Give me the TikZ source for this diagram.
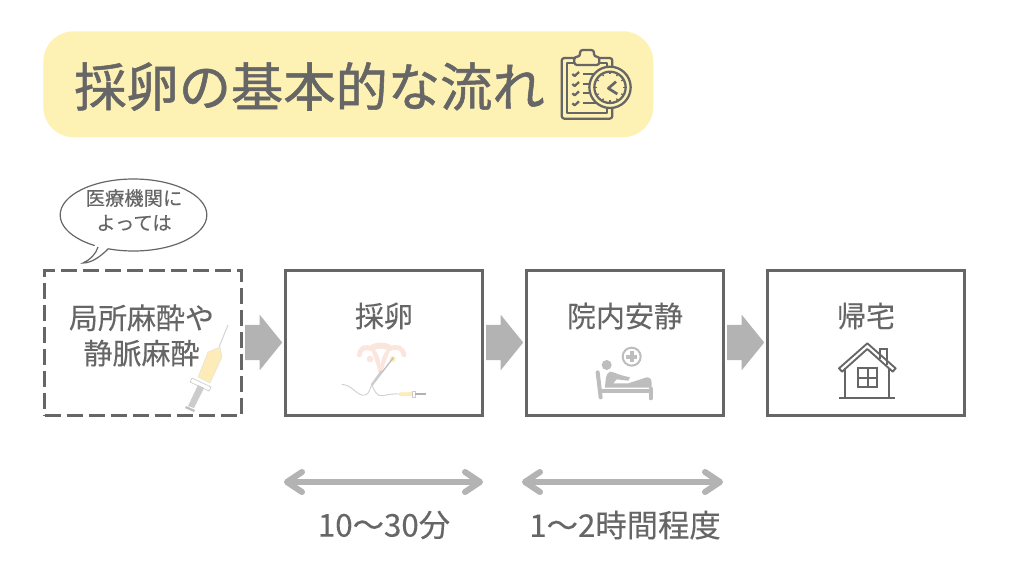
\documentclass[tikz,border=0pt]{standalone}
\usepackage{fontspec}
\setmainfont{Noto Sans CJK JP}
\newfontfamily\titlefont[FakeBold=1.0]{Noto Sans CJK JP}
\newfontfamily\labelfont[FakeBold=0.25]{Noto Sans CJK JP}
\usetikzlibrary{shapes.arrows,shapes.geometric,arrows.meta,calc}
\definecolor{ink}{HTML}{666666}
\definecolor{bar}{HTML}{B3B3B3}
\definecolor{cream}{HTML}{FEF1B4}
\definecolor{pale}{HTML}{FBE6DE}
\definecolor{paleyel}{HTML}{FDEBB8}
\definecolor{bedgray}{HTML}{BDBDBD}
\tikzset{
  stepbox/.style={draw=ink,line width=2.25pt,outer sep=0pt,minimum width=147.4pt,minimum height=108.5pt,inner sep=0pt,anchor=north west},
  boxlabel/.style={text=ink,font=\labelfont\fontsize{21.75pt}{26.5pt}\selectfont,align=center,inner sep=0pt},
  timelabel/.style={text=ink,font=\labelfont\fontsize{23.5pt}{28pt}\selectfont,inner sep=0pt},
  flow/.style={fill=bar,draw=none,single arrow,inner xsep=0pt,inner ysep=13.1pt,outer sep=0pt,minimum height=27.75pt,single arrow head extend=7.5pt,single arrow tip angle=102,single arrow head indent=0pt},
  span/.style={draw=bar,line width=3.9pt,line cap=round},
  spanhead/.style={draw=bar,line width=4.5pt,line cap=round,line join=round},
  icon/.style={draw=ink,line width=1.7pt,line join=round},
  house/.style={draw=ink,line width=1.4pt,line join=miter},
}
\begin{document}
\begin{tikzpicture}[x=0.75pt,y=-0.75pt]
\useasboundingbox (0,0) rectangle (1024,578);
\fill[white] (0,0) rectangle (1024,578);
% title
\node[fill=cream,rounded corners=23pt,minimum width=457.5pt,minimum height=79.5pt,inner sep=0pt,anchor=north west] (title) at (43,31) {};
\node[text=ink,font=\titlefont\fontsize{39.2pt}{42pt}\selectfont,anchor=west,inner sep=0pt] (titletext) at (74,86.5) {採卵の基本的な流れ};
% clipboard icon
\begin{scope}[shift={(540,30)},scale=1/3]
  \draw[icon,rounded corners=2pt] (65,84) rectangle (217,266);
  \draw[icon] (82,100) rectangle (200,250);
  \draw[icon,fill=cream,rounded corners=2pt] (103,105) -- (103,80) -- (120,80) -- (120,60) -- (162,60) -- (162,80) -- (178,80) -- (178,105) -- cycle;
  \foreach \yy in {132,162,190,220} {
    \draw[icon] (97,\yy) -- (104,\yy+6) -- (117,\yy-6);
    \draw[icon] (128,\yy) -- (170,\yy);
  }
  \draw[icon,fill=cream] (210,172) circle (62);
  \draw[icon,fill=cream] (210,172) circle (47);
  \foreach \aa in {0,30,...,330} \draw[draw=ink,line width=1pt] (210,172) ++(\aa:47) -- ++(\aa:-8);
  \draw[icon,line width=2pt] (228,155) -- (205,175) -- (232,192);
\end{scope}
% boxes
\node[stepbox,dash pattern=on 12pt off 4.5pt] (b1) at (44.8,270.5) {};
\node[stepbox] (b2) at (285.8,270.5) {};
\node[stepbox] (b3) at (526.8,270.5) {};
\node[stepbox] (b4) at (767.8,270.5) {};
% labels
\node[boxlabel] (t1) at (141.5,335.5) {局所麻酔や\\静脈麻酔};
\node[boxlabel] (t2) at (384,316) {採卵};
\node[boxlabel] (t3) at (625,316) {院内安静};
\node[boxlabel] (t4) at (866,316) {帰宅};
% block arrows
\node[flow] (a1) at (256.5,342.5) {};
\node[flow] (a2) at (497.5,342.5) {};
\node[flow] (a3) at (738.5,342.5) {};
% bubble
\node[draw=ink,line width=0.9pt,ellipse,fill=white,minimum width=110pt,minimum height=54pt,inner sep=0pt] (bubble) at (133.5,215) {};
\fill[white] (96,244) -- (83,263) -- (112,246) -- cycle;
\draw[ink,line width=0.9pt] (98,247) .. controls (96,254) and (90,260) .. (83,263) .. controls (92,263) and (101,256) .. (108,249);
\node[text=ink,font=\labelfont\fontsize{14.5pt}{18.5pt}\selectfont,align=center,inner sep=0pt] (bubbletext) at (134,210) {医療機関に\\よっては};
% syringe
\draw[draw=bedgray!60,line width=0.8pt] (228,325) -- (219,347);
\fill[paleyel,draw=black!12,line width=.3pt] (220,347) -- (222,357) -- (210,383) -- (198,377) -- (208,352) -- cycle;
\fill[white,draw=black!20,line width=.5pt] (192,378) -- (211,387) -- (209,391) -- (190,382) -- cycle;
\fill[black!20] (198,385) -- (204,388) -- (194,408) -- (188,406) -- cycle;
\fill[black!25] (186,406) -- (195,410) -- (194,412) -- (185,408) -- cycle;
% uterus
\begin{scope}[shift={(330,335)},scale=1/3]
  \draw[pale,line width=3.5pt,line cap=round] (125,42) .. controls (105,32) and (92,38) .. (88,60);
  \draw[pale,line width=3.5pt,line cap=round] (178,42) .. controls (198,32) and (218,36) .. (222,60);
  \fill[pale] (122,30) .. controls (140,20) and (165,20) .. (183,30) .. controls (178,60) and (165,80) .. (160,100) -- (158,112) -- (145,112) -- (143,100) .. controls (138,80) and (126,60) .. (122,30) -- cycle;
  \fill[white] (135,45) .. controls (145,40) and (160,40) .. (170,45) .. controls (160,55) and (155,70) .. (152,90) .. controls (150,70) and (145,55) .. (135,45) -- cycle;
  \fill[pale] (120,72) circle (10);
  \fill[paleyel] (188,72) circle (9);
  \draw[black!25,line width=1pt] (190,68) -- (125,152);
  \draw[black!20,line width=1.6pt] (155,108) -- (125,150);
  \draw[black!18,line width=.7pt] (35,148) .. controls (70,150) and (80,185) .. (105,180) .. controls (118,178) and (120,160) .. (125,150) .. controls (135,170) and (140,185) .. (160,182) .. controls (175,178) and (190,176) .. (210,177);
  \fill[paleyel] (208,172) -- (230,172) -- (250,170) -- (250,184) -- (230,183) -- (208,183) -- cycle;
  \fill[white,draw=black!20,line width=.4pt] (248,168) rectangle (256,186);
  \fill[black!30] (256,174) rectangle (288,181);
\end{scope}
% bed
\begin{scope}[shift={(585,340)},scale=1/3]
  \draw[bedgray,line width=1.5pt] (140,50) circle (27);
  \fill[bedgray] (134,33) rectangle (146,67);
  \fill[bedgray] (123,44) rectangle (157,56);
  \fill[bedgray] (65,75) circle (15);
  \draw[bedgray,line width=3pt,line cap=round] (38,97) -- (47,172);
  \fill[bedgray] (75,95) .. controls (85,95) and (100,105) .. (135,112) -- (130,122) -- (95,118) -- (85,130) -- (130,130) -- (185,112) .. controls (195,112) and (200,118) .. (200,130) -- (200,143) -- (60,143) .. controls (62,125) and (60,100) .. (75,95) -- cycle;
  \draw[bedgray,line width=3pt] (46,153) -- (198,153);
  \draw[bedgray,line width=3pt,line cap=round] (197,146) -- (197,175);
\end{scope}
% house
\begin{scope}[shift={(830,335)},scale=1/3]
  \draw[house,fill=white] (150,72) -- (150,42) -- (170,42) -- (170,90);
  \draw[house,line join=round] (36,110) -- (27,100) -- (112,25) -- (197,100) -- (188,110) -- (112,42) -- cycle;
  \draw[house] (46,100) -- (46,190);
  \draw[house] (178,100) -- (178,190);
  \draw[house] (28,190) -- (195,190);
  \draw[house] (85,100) rectangle (142,157);
  \draw[house] (113.5,100) -- (113.5,157);
  \draw[house] (85,128.5) -- (142,128.5);
\end{scope}
% spans
\coordinate (s1l) at (287,482);
\coordinate (s1r) at (480,482);
\coordinate (s2l) at (525,482);
\coordinate (s2r) at (720,482);
\foreach \c in {s1,s2} {
  \draw[span] (\c l) -- (\c r);
  \draw[spanhead] ($(\c l)+(15,-10)$) -- (\c l) -- ($(\c l)+(15,10)$);
  \draw[spanhead] ($(\c r)+(-15,-10)$) -- (\c r) -- ($(\c r)+(-15,10)$);
}
\node[timelabel] (d1) at (384,525) {10〜30分};
\node[timelabel] (d2) at (625,525) {1〜2時間程度};
\end{tikzpicture}
\end{document}
